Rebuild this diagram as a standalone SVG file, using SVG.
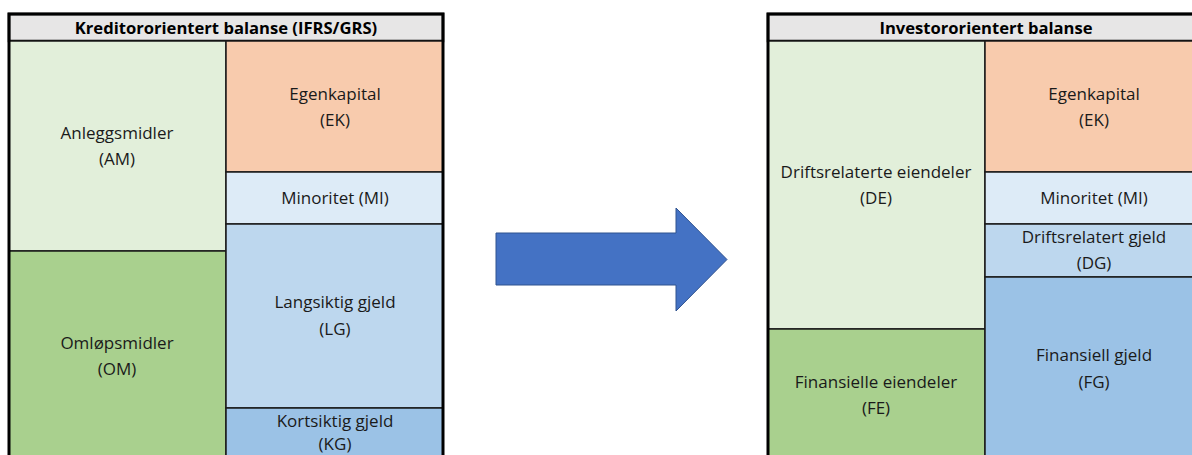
<svg xmlns="http://www.w3.org/2000/svg" width="1192" height="455" viewBox="0 0 1192 455">
  <style>
    .cell { stroke: #1a1a1a; stroke-width: 1.5; }
    .frame { fill: none; stroke: #000; stroke-width: 3; }
    .hdr { fill: #E7E6E6; stroke: #000; stroke-width: 2.5; }
    text { font-family: "Open Sans", "Liberation Sans", sans-serif; font-size: 17px; fill: #1a1a1a; text-anchor: middle; }
    .title { font-weight: bold; font-size: 16.6px; fill: #000; }
    .am { fill: #E2EFDA; } .om { fill: #A9D08E; }
    .ek { fill: #F8CBAD; } .mi { fill: #DDEBF7; }
    .lg { fill: #BDD7EE; } .kg { fill: #9BC2E6; }
  </style>

  <!-- Creditor-oriented balance sheet -->
  <g id="kreditor">
    <rect class="hdr" x="9" y="14" width="434" height="27"/>
    <text class="title" x="226" y="34">Kreditororientert balanse (IFRS/GRS)</text>
  </g>
  <g id="k-am"><rect class="cell am" x="9" y="41" width="217" height="210"/>
    <text x="117" y="139">Anleggsmidler</text><text x="117" y="165">(AM)</text></g>
  <g id="k-om"><rect class="cell om" x="9" y="251" width="217" height="210"/>
    <text x="117" y="349">Omløpsmidler</text><text x="117" y="375">(OM)</text></g>
  <g id="k-ek"><rect class="cell ek" x="226" y="41" width="217" height="131"/>
    <text x="335" y="100">Egenkapital</text><text x="335" y="126">(EK)</text></g>
  <g id="k-mi"><rect class="cell mi" x="226" y="172" width="217" height="52"/>
    <text x="335" y="204">Minoritet (MI)</text></g>
  <g id="k-lg"><rect class="cell lg" x="226" y="224" width="217" height="184"/>
    <text x="335" y="308">Langsiktig gjeld</text><text x="335" y="335">(LG)</text></g>
  <g id="k-kg"><rect class="cell kg" x="226" y="408" width="217" height="53"/>
    <text x="335" y="427">Kortsiktig gjeld</text><text x="335" y="450">(KG)</text></g>
  <rect class="frame" x="9" y="14" width="434" height="450"/>

  <!-- Transformation arrow -->
  <g id="connectors">
    <polygon points="496,233 676,233 676,208 727,259.5 676,311 676,285 496,285" fill="#4472C4" stroke="#2F528F" stroke-width="1"/>
  </g>

  <!-- Investor-oriented balance sheet -->
  <g id="investor">
    <rect class="hdr" x="768" y="14" width="440" height="27"/>
    <text class="title" x="986" y="34">Investororientert balanse</text>
  </g>
  <g id="i-de"><rect class="cell am" x="768" y="41" width="217" height="288"/>
    <text x="876" y="178">Driftsrelaterte eiendeler</text><text x="876" y="204">(DE)</text></g>
  <g id="i-fe"><rect class="cell om" x="768" y="329" width="217" height="132"/>
    <text x="876" y="388">Finansielle eiendeler</text><text x="876" y="414">(FE)</text></g>
  <g id="i-ek"><rect class="cell ek" x="985" y="41" width="223" height="131"/>
    <text x="1094" y="100">Egenkapital</text><text x="1094" y="126">(EK)</text></g>
  <g id="i-mi"><rect class="cell mi" x="985" y="172" width="223" height="52"/>
    <text x="1094" y="204">Minoritet (MI)</text></g>
  <g id="i-dg"><rect class="cell lg" x="985" y="224" width="223" height="53"/>
    <text x="1094" y="243">Driftsrelatert gjeld</text><text x="1094" y="269">(DG)</text></g>
  <g id="i-fg"><rect class="cell kg" x="985" y="277" width="223" height="184"/>
    <text x="1094" y="361">Finansiell gjeld</text><text x="1094" y="388">(FG)</text></g>
  <rect class="frame" x="768" y="14" width="440" height="450"/>
</svg>
